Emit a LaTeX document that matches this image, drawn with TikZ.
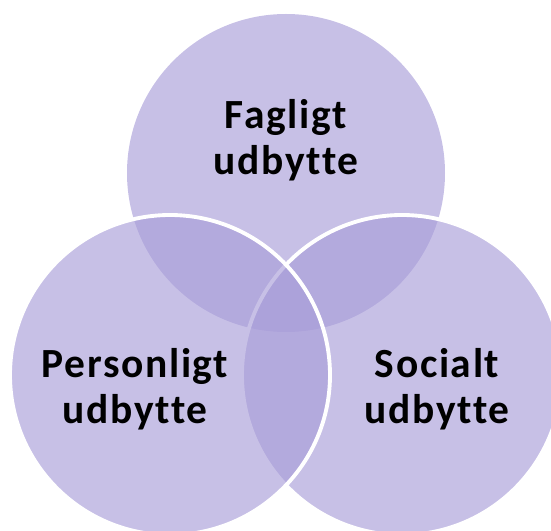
\documentclass[tikz,border=0pt]{standalone}
\usepackage{fontspec}
\setmainfont[Ligatures=NoCommon, LetterSpace=4]{Carlito}
\usepackage{tikz}
\definecolor{lavender}{RGB}{168,157,216}

\begin{document}
\begin{tikzpicture}[
  blob/.style={fill=lavender, fill opacity=0.64},
  rim/.style={draw=white, line width=1.1pt},
  lbl/.style={align=center, text=black, font=\fontsize{11.8}{13.1}\selectfont\bfseries}
]
\useasboundingbox (0,0) rectangle (5.51,5.31);

\fill[blob] (2.86,3.58) circle (1.59);
\draw[blob, rim] (4.02,1.56) circle (1.60);
\draw[blob, rim] (1.70,1.56) circle (1.60);

\node[lbl] (fag) at (2.86,3.91) {Fagligt\\udbytte};
\node[lbl] (per) at (1.35,1.42) {Personligt\\udbytte};
\node[lbl] (soc) at (4.37,1.42) {Socialt\\udbytte};

\end{tikzpicture}
\end{document}
